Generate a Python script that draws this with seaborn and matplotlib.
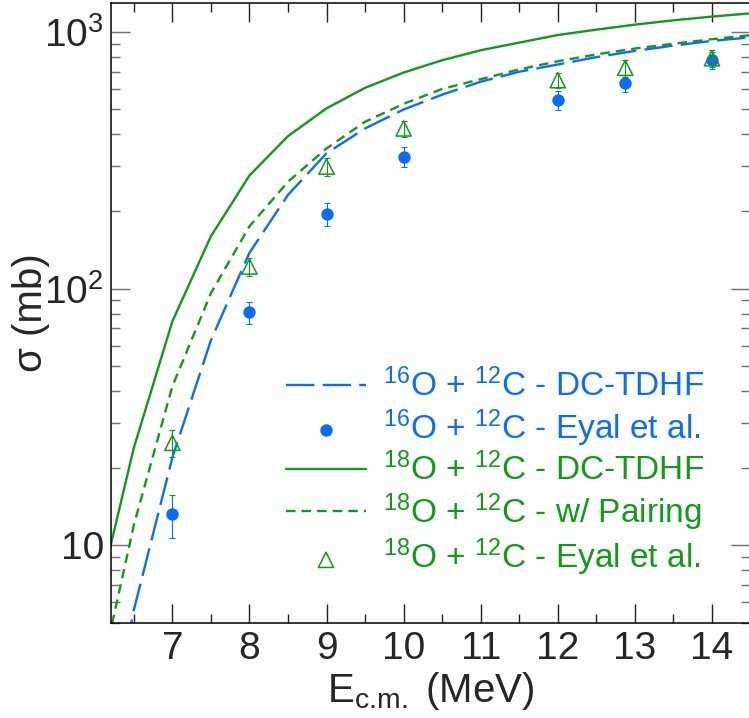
import matplotlib
matplotlib.use("Agg")
import matplotlib.pyplot as plt
from matplotlib import font_manager
from matplotlib.ticker import FixedLocator, FixedFormatter, NullFormatter, MultipleLocator, LogLocator
import seaborn as sns

# DC-TDHF fusion cross sections (mb) on a 0.5 MeV grid
e_grid = [6.0, 6.5, 7.0, 7.5, 8.0, 8.5, 9.0, 9.5, 10.0, 10.5, 11.0, 11.5,
          12.0, 12.5, 13.0, 13.5, 14.0, 14.5]
o16_tdhf = [1.0, 5.6, 22, 63, 138, 232, 337, 421, 499, 570, 640, 700,
            747, 798, 844, 885, 923, 953]
o18_tdhf = [5.6, 24, 74.6, 160, 276, 393, 504, 606, 695, 776, 849, 909,
            973, 1021, 1068, 1110, 1148, 1182]
o18_pair = [2.5, 12, 41.7, 96, 175, 261, 352, 447, 525, 600, 655, 715,
            769, 818, 862, 900, 937, 972]

# Eyal et al. measurements
e_exp = [7.0, 8.0, 9.0, 10.0, 12.0, 12.875, 14.0]
o16_exp = [13.2, 80.9, 195, 327, 543, 632, 776]
o16_err = [2.5, 8, 20, 28, 46, 50, 60]
o18_exp = [25.1, 122, 299, 421, 649, 725, 790]
o18_err = [3, 10, 24, 30, 45, 55, 60]

labels = [r"$^{16}$O + $^{12}$C - DC-TDHF",
          r"$^{16}$O + $^{12}$C - Eyal et al.",
          r"$^{18}$O + $^{12}$C - DC-TDHF",
          r"$^{18}$O + $^{12}$C - w/ Pairing",
          r"$^{18}$O + $^{12}$C - Eyal et al."]

blue = "#0a6cff"
green = "#11991a"

sns.set_style("ticks")
names = {f.name for f in font_manager.fontManager.ttflist}
fam = "Liberation Sans Narrow" if "Liberation Sans Narrow" in names else "Liberation Sans"
plt.rcParams["font.family"] = [fam, "DejaVu Sans"]
plt.rcParams["mathtext.fontset"] = "custom"
plt.rcParams["mathtext.rm"] = fam
plt.rcParams["mathtext.it"] = fam + ":italic"
plt.rcParams["mathtext.bf"] = fam + ":bold"

fig = plt.figure(figsize=(7.49, 7.18), dpi=100)
ax = fig.add_axes([0.1478, 0.1327, 0.8542, 0.8635])

handles = []
sns.lineplot(x=e_grid, y=o16_tdhf, ax=ax, color=blue, lw=1.7,
             linestyle=(0, (12, 3.5)), label=labels[0])
handles.append(ax.lines[-1])

ax.errorbar(e_exp, o16_exp, yerr=o16_err, fmt="none", ecolor=blue,
            elinewidth=0.8, capsize=2, capthick=0.8, zorder=3)
sns.scatterplot(x=e_exp, y=o16_exp, ax=ax, color=blue, s=80, marker="o",
                edgecolor=blue, linewidth=0, label=labels[1], zorder=4)
handles.append(ax.collections[-1])

sns.lineplot(x=e_grid, y=o18_tdhf, ax=ax, color=green, lw=1.7, label=labels[2])
handles.append(ax.lines[-1])

sns.lineplot(x=e_grid, y=o18_pair, ax=ax, color=green, lw=1.7,
             linestyle=(0, (4.0, 2.6)), label=labels[3])
handles.append(ax.lines[-1])

ax.errorbar(e_exp, o18_exp, yerr=o18_err, fmt="none", ecolor=green,
            elinewidth=0.8, capsize=2, capthick=0.8, zorder=5)
sns.scatterplot(x=e_exp, y=o18_exp, ax=ax, color=green, s=120, marker="^",
                linewidth=1.1, label=labels[4], zorder=6)
tri = ax.collections[-1]
tri.set_facecolor("none")
tri.set_edgecolor(green)
handles.append(tri)

ax.set_yscale("log")
ax.set_xlim(6.2, 14.5)
ax.set_ylim(5, 1300)

ax.xaxis.set_major_locator(MultipleLocator(1))
ax.xaxis.set_minor_locator(MultipleLocator(0.5))
ax.yaxis.set_major_locator(FixedLocator([10, 100, 1000]))
ax.yaxis.set_major_formatter(FixedFormatter(["10", "$10^2$", "$10^3$"]))
ax.yaxis.set_minor_locator(LogLocator(base=10, subs=range(2, 10)))
ax.yaxis.set_minor_formatter(NullFormatter())

ax.tick_params(which="both", direction="in", top=True, right=True)
ax.tick_params(which="major", length=13.5, width=1.0, labelsize=28)
ax.tick_params(which="minor", length=6.5, width=1.0)
ax.tick_params(axis="y", which="both", color="#707070", pad=5)
ax.tick_params(axis="x", which="both", color="#222222", pad=6)
for sp in ax.spines.values():
    sp.set_linewidth(1.1)
    sp.set_color("black")

ax.set_xlabel(r"E$_{\rm c.\!m.}$ (MeV)", fontsize=29, labelpad=2)
ax.set_ylabel("σ (mb)", fontsize=29, labelpad=-4)

leg = ax.legend(handles=handles, labels=labels, loc="upper left",
                bbox_to_anchor=(286 / 749, 349 / 718), bbox_transform=fig.transFigure,
                frameon=False, borderpad=0, borderaxespad=0, prop={"size": 24},
                handlelength=2.4, handletextpad=0.5, labelspacing=0.12)
for txt, col in zip(leg.get_texts(), [blue, blue, green, green, green]):
    txt.set_color(col)

fig.savefig("out.png", dpi=100)
